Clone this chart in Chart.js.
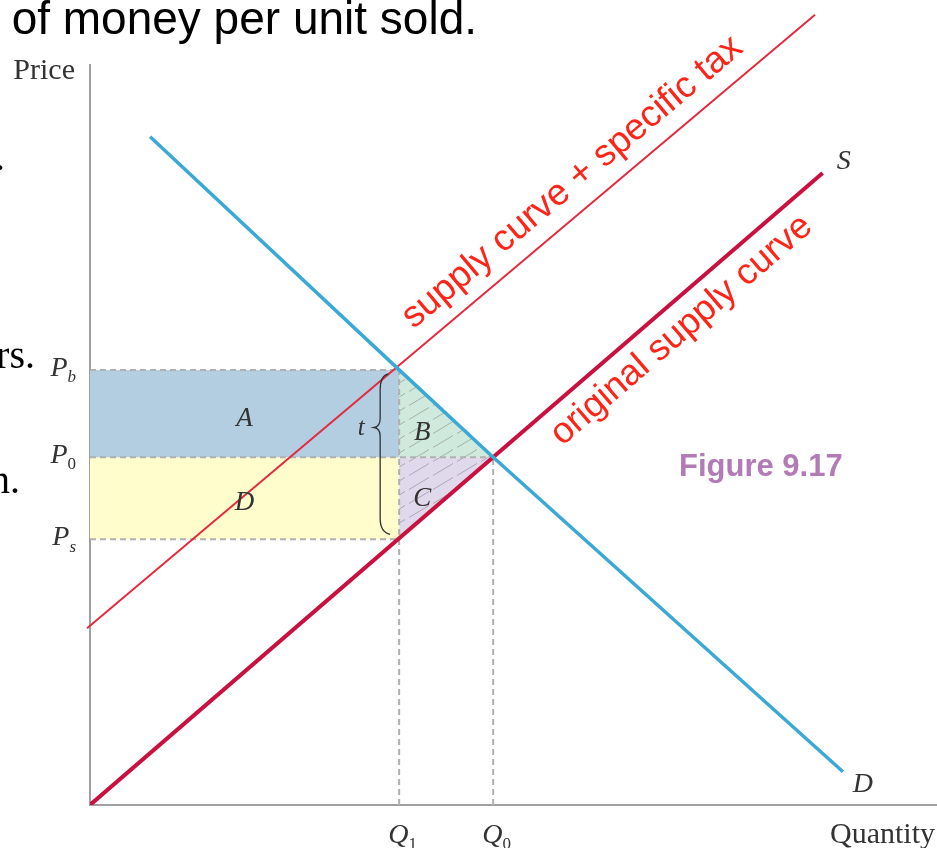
<!DOCTYPE html>
<html>
<head>
<meta charset="utf-8">
<script src="https://cdn.jsdelivr.net/npm/chart.js@4.4.1/dist/chart.umd.min.js"></script>
<style>
  html, body { margin: 0; padding: 0; background: #fff; }
  #chart { display: block; }
</style>
</head>
<body>
<canvas id="chart" width="937" height="848"></canvas>
<script>
// --- values (abstract units, axes run 0..100) ---
const priceSubs = ['b', '0', 's'];
const priceLevels = [58.8, 47.0, 35.9];      // Pb, P0, Ps
const quantitySubs = ['1', '0'];
const quantityLevels = [36.5, 47.6];         // Q1, Q0

const demandX = [7.1, 36.5, 47.6, 88.9];
const demandY = [90.3, 58.8, 47.0, 4.5];
const supplyX = [0, 86.5];
const supplyY = [0, 85.4];
const taxSupplyX = [-0.35, 85.6];
const taxSupplyY = [23.9, 106.8];

const areaNames = ['A', 'B', 'C', 'D'];

const [Pb, P0, Ps] = priceLevels;
const [Q1, Q0] = quantityLevels;

const pts = (xs, ys) => xs.map((x, i) => ({ x: x, y: ys[i] }));

function hatch(base) {
    const c = document.createElement('canvas');
    c.width = 24; c.height = 14;
    const g = c.getContext('2d');
    g.fillStyle = base;
    g.fillRect(0, 0, 24, 14);
    g.strokeStyle = 'rgba(120,120,120,0.5)';
    g.lineWidth = 1;
    g.beginPath();
    g.moveTo(1, 13.5);
    g.lineTo(21, 1.5);
    g.stroke();
    return g.createPattern(c, 'repeat');
}
const ctx0 = document.getElementById('chart').getContext('2d');

const poly = (data, color) => ({
    data: data,
    fill: 'shape',
    backgroundColor: color,
    borderWidth: 0,
    pointRadius: 0,
    order: 10
});
const dash = (data) => ({
    data: data,
    borderColor: '#b0b0b0',
    borderWidth: 2,
    borderDash: [6, 4],
    pointRadius: 0,
    fill: false,
    order: 8
});

// text helpers
function mathLabel(ctx, main, sub, x, y, size, align) {
    ctx.save();
    ctx.fillStyle = '#333';
    ctx.textBaseline = 'alphabetic';
    ctx.font = 'italic ' + size + 'px "Liberation Serif", serif';
    const w1 = ctx.measureText(main).width;
    ctx.font = Math.round(size * 0.62) + 'px "Liberation Serif", serif';
    const w2 = sub ? ctx.measureText(sub).width : 0;
    let x0 = x;
    if (align === 'right') x0 = x - w1 - w2;
    if (align === 'center') x0 = x - w1 / 2;
    ctx.font = 'italic ' + size + 'px "Liberation Serif", serif';
    ctx.fillText(main, x0, y);
    if (sub) {
        ctx.font = (sub === 'b' || sub === 's' ? 'italic ' : '') + Math.round(size * 0.62) + 'px "Liberation Serif", serif';
        ctx.fillText(sub, x0 + w1, y + size * 0.22);
    }
    ctx.restore();
}

function alongLine(ctx, text, xs, ys, startPx, offset, size, xS, yS) {
    const x1 = xS.getPixelForValue(xs[0]), y1 = yS.getPixelForValue(ys[0]);
    const x2 = xS.getPixelForValue(xs[1]), y2 = yS.getPixelForValue(ys[1]);
    const ang = Math.atan2(y2 - y1, x2 - x1);
    const t = (startPx - x1) / (x2 - x1);
    const px = startPx, py = y1 + t * (y2 - y1);
    // normal pointing up-left
    const nx = Math.sin(ang), ny = -Math.cos(ang);
    ctx.save();
    ctx.translate(px + nx * offset, py + ny * offset);
    ctx.rotate(ang);
    ctx.fillStyle = '#ff2418';
    ctx.font = size + 'px "Liberation Sans", Arial, sans-serif';
    ctx.textBaseline = 'alphabetic';
    ctx.fillText(text, 0, 0);
    ctx.restore();
}

const annotations = {
    id: 'annotations',
    afterDatasetsDraw(chart) {
        const ctx = chart.ctx;
        const xS = chart.scales.x, yS = chart.scales.y;
        const xq1 = xS.getPixelForValue(Q1);
        const yb = yS.getPixelForValue(Pb), y0 = yS.getPixelForValue(P0), ys = yS.getPixelForValue(Ps);

        // curly brace for t
        const xb = xq1 - 19;
        const top = yb + 4, bot = ys - 5;
        const tip = yb + (ys - yb) * 0.34;
        ctx.save();
        ctx.strokeStyle = '#333';
        ctx.lineWidth = 1.3;
        ctx.beginPath();
        ctx.moveTo(xb + 8, top);
        ctx.quadraticCurveTo(xb, top + 2, xb, top + 16);
        ctx.lineTo(xb, tip - 9);
        ctx.quadraticCurveTo(xb, tip - 1, xb - 6, tip);
        ctx.quadraticCurveTo(xb, tip + 1, xb, tip + 9);
        ctx.lineTo(xb, bot - 16);
        ctx.quadraticCurveTo(xb, bot - 2, xb + 10, bot);
        ctx.stroke();
        ctx.restore();
        mathLabel(ctx, 't', '', xb - 19, tip + 8, 25, 'center');

        // area letters
        const xA = xS.getPixelForValue(Q1 / 2);
        const xB = xq1 + 23;
        mathLabel(ctx, areaNames[0], '', xA, (yb + y0) / 2 + 12, 27, 'center');
        mathLabel(ctx, areaNames[1], '', xB, (yb + y0) / 2 + 26, 27, 'center');
        mathLabel(ctx, areaNames[2], '', xB, (y0 + ys) / 2 + 8, 27, 'center');
        mathLabel(ctx, areaNames[3], '', xA, (y0 + ys) / 2 + 12, 27, 'center');

        // price / quantity tick labels
        priceLevels.forEach((p, i) => {
            mathLabel(ctx, 'P', priceSubs[i], xS.left - 14, yS.getPixelForValue(p) + 6, 28, 'right');
        });
        quantityLevels.forEach((q, i) => {
            mathLabel(ctx, 'Q', quantitySubs[i], xS.getPixelForValue(q) - 11, yS.bottom + 38, 28, 'left');
        });

        // curve letters
        mathLabel(ctx, 'S', '', xS.getPixelForValue(supplyX[1]) + 21, yS.getPixelForValue(supplyY[1]) - 4, 28, 'center');
        mathLabel(ctx, 'D', '', xS.getPixelForValue(demandX[3]) + 20, yS.getPixelForValue(demandY[3]) + 20, 28, 'center');

        // axis titles
        ctx.save();
        ctx.fillStyle = '#333';
        ctx.font = '30px "Liberation Serif", serif';
        ctx.textAlign = 'right';
        ctx.fillText('Price', xS.left - 15, yS.top + 14);
        ctx.fillText('Quantity', chart.width - 2, yS.bottom + 38);
        ctx.restore();

        // red annotations along the supply curves
        alongLine(ctx, 'supply curve + specific tax', taxSupplyX, taxSupplyY, 425, 18, 37, xS, yS);
        alongLine(ctx, 'original supply curve', supplyX, supplyY, 538, -37, 36.5, xS, yS);

        // figure tag
        ctx.save();
        ctx.fillStyle = '#b27bb6';
        ctx.font = 'bold 31px "Liberation Sans", Arial, sans-serif';
        ctx.fillText('Figure 9.17', 679, 476);
        ctx.restore();

        // fragments of the slide text behind the figure
        ctx.save();
        ctx.fillStyle = '#000';
        ctx.font = '46px "Liberation Sans", Arial, sans-serif';
        ctx.textAlign = 'right';
        ctx.fillText('of money per unit sold.', 477, 34);
        ctx.font = '40px "Liberation Serif", serif';
        ctx.fillText('.', 5, 170);
        ctx.fillText('rs.', 35, 368);
        ctx.fillText('n.', 20, 493);
        ctx.restore();
    }
};

new Chart(ctx0, {
    type: 'line',
    data: {
        datasets: [
            {
                data: pts(demandX, demandY),
                borderColor: '#3aa9d6',
                borderWidth: 3.5,
                pointRadius: 0,
                fill: false,
                tension: 0,
                order: 1
            },
            {
                data: pts(supplyX, supplyY),
                borderColor: '#c9103f',
                borderWidth: 4,
                pointRadius: 0,
                fill: false,
                order: 2
            },
            {
                data: pts(taxSupplyX, taxSupplyY),
                borderColor: '#e52a40',
                borderWidth: 2,
                pointRadius: 0,
                fill: false,
                clip: false,
                order: 3
            },
            dash([{ x: 0, y: Pb }, { x: Q1, y: Pb }]),
            dash([{ x: 0, y: P0 }, { x: Q0, y: P0 }]),
            dash([{ x: 0, y: Ps }, { x: Q1, y: Ps }]),
            dash([{ x: Q1, y: 0 }, { x: Q1, y: Pb }]),
            dash([{ x: Q0, y: 0 }, { x: Q0, y: P0 }]),
            poly([{ x: 0, y: P0 }, { x: 0, y: Pb }, { x: Q1, y: Pb }, { x: Q1, y: P0 }, { x: 0, y: P0 }], '#b3cde1'),
            poly([{ x: 0, y: Ps }, { x: 0, y: P0 }, { x: Q1, y: P0 }, { x: Q1, y: Ps }, { x: 0, y: Ps }], '#fffdcc'),
            poly([{ x: Q1, y: P0 }, { x: Q1, y: Pb }, { x: Q0, y: P0 }, { x: Q1, y: P0 }], hatch('#cfe9dc')),
            poly([{ x: Q1, y: Ps }, { x: Q1, y: P0 }, { x: Q0, y: P0 }, { x: Q1, y: Ps }], hatch('#e0d9ec'))
        ]
    },
    options: {
        responsive: false,
        animation: false,
        layout: { padding: { left: 90, top: 65, right: 0, bottom: 43 } },
        plugins: {
            legend: { display: false },
            tooltip: { enabled: false }
        },
        elements: { line: { tension: 0 } },
        scales: {
            x: {
                type: 'linear',
                min: 0,
                max: 100,
                grid: { display: false, drawTicks: false },
                ticks: { display: false },
                border: { display: true, color: '#a0a0a0', width: 2 }
            },
            y: {
                type: 'linear',
                min: 0,
                max: 100,
                grid: { display: false, drawTicks: false },
                ticks: { display: false },
                border: { display: true, color: '#a0a0a0', width: 2 }
            }
        }
    },
    plugins: [annotations]
});
</script>
</body>
</html>
